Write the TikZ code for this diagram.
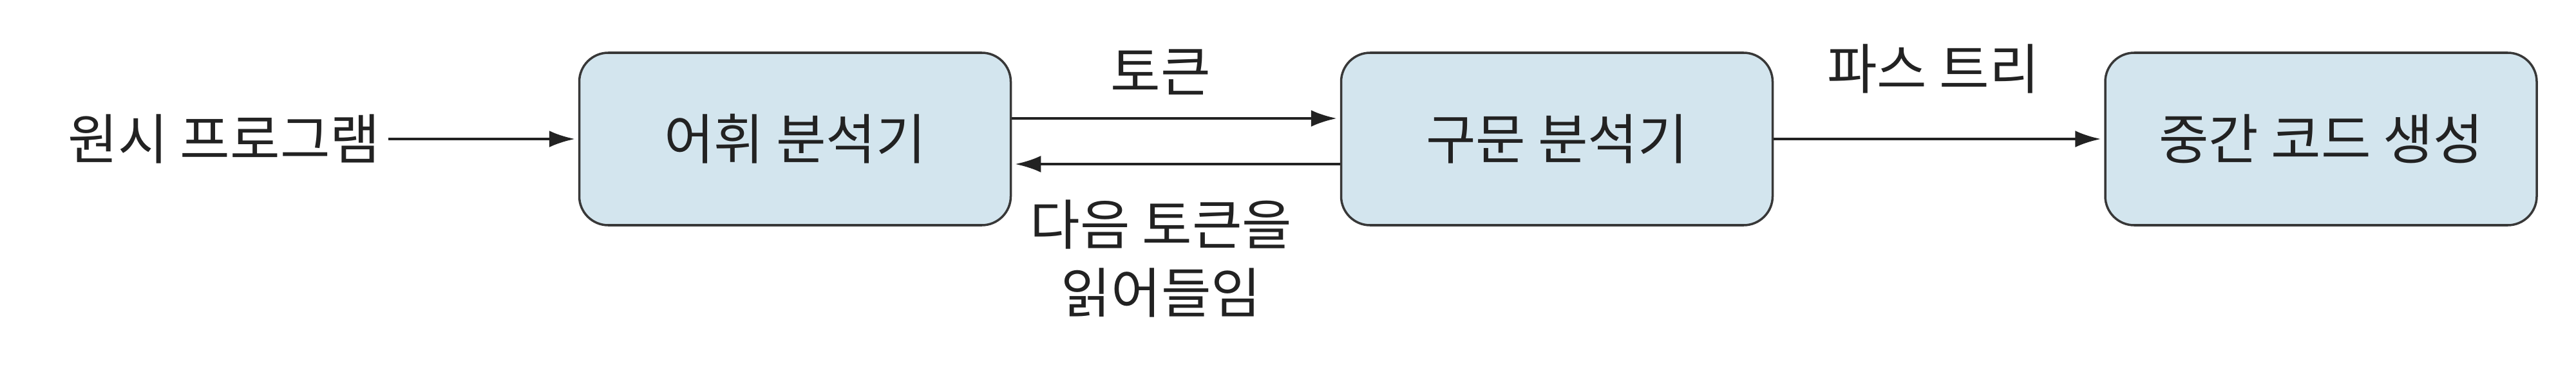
\documentclass[tikz,border=0pt]{standalone}
\usepackage{fontspec}
\setmainfont{Noto Sans CJK KR}
\usetikzlibrary{arrows.meta,positioning}
\definecolor{boxfill}{HTML}{D3E5EE}
\definecolor{ink}{HTML}{222222}
\tikzset{>={Latex[length=.4cm,width=.26cm]},line width=1.2pt,
  every node/.style={font=\fontsize{24}{30.4}\selectfont,text=ink},
  stage/.style={draw=ink!90,fill=boxfill,rounded corners=.45cm,
    minimum width=6.7cm,minimum height=2.68cm,line width=1pt},
  flow/.style={->,draw=ink,line width=1.2pt,shorten >=.05cm},
  labeltext/.style={inner sep=0pt,align=center}}
\begin{document}
\begin{tikzpicture}[x=1cm,y=1cm]
\useasboundingbox (0,0) rectangle (40,5.88);
\node[stage] (lex) at (12.345,3.72) {어휘 분석기};
\node[stage] (parse) at (24.175,3.72) {구문 분석기};
\node[stage] (gen) at (36.04,3.72) {중간 코드 생성};
\node (src) at (3.48,3.72) {원시 프로그램};
\draw[flow] (src) -- (lex);
\draw[flow] ([yshift=.32cm]lex.east) -- ([yshift=.32cm]parse.west);
\draw[flow] ([yshift=-.39cm]parse.west) -- ([yshift=-.39cm]lex.east);
\draw[flow] (parse) -- (gen);
\node[labeltext] (tok) at (18.02,4.76) {토큰};
\node[labeltext] (next) at (18.03,1.86) {다음 토큰을\\읽어들임};
\node[labeltext] (tree) at (30.02,4.81) {파스 트리};
\end{tikzpicture}
\end{document}
